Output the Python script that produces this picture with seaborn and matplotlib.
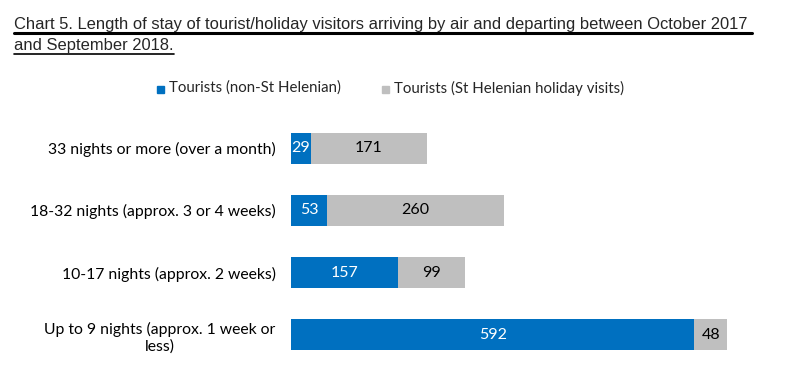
import matplotlib
matplotlib.use("Agg")
import matplotlib.pyplot as plt
import seaborn as sns
import numpy as np
import pandas as pd
from matplotlib.lines import Line2D
from matplotlib.patches import Rectangle

categories = [
    "33 nights or more (over a month)",
    "18-32 nights (approx. 3 or 4 weeks)",
    "10-17 nights (approx. 2 weeks)",
    "Up to 9 nights (approx. 1 week or\nless)",
]
non_st_helenian = [29, 53, 157, 592]
st_helenian = [171, 260, 99, 48]
series_names = ["Tourists (non-St Helenian)", "Tourists (St Helenian holiday visits)"]
title_lines = [
    "Chart 5. Length of stay of tourist/holiday visitors arriving by air and departing between October 2017 ",
    "and September 2018.",
]

BLUE = "#0070C0"
GREY = "#BFBFBF"

sns.set_theme(style="white")
plt.rcParams["font.family"] = ["Lato", "DejaVu Sans"]

df = pd.DataFrame({
    "cat": categories,
    "a": non_st_helenian,
    "b": st_helenian,
})
df["total"] = df["a"] + df["b"]

fig = plt.figure(figsize=(7.99, 3.77), dpi=100)
ax = fig.add_axes([291 / 799, 11 / 377, (768 - 291) / 799, (366 - 117) / 377])

sns.barplot(data=df, x="total", y="cat", color=GREY, width=0.5, ax=ax, saturation=1, linewidth=0)
sns.barplot(data=df, x="a", y="cat", color=BLUE, width=0.5, ax=ax, saturation=1, linewidth=0)
ax.set_xlim(0, 700)
ax.set_ylim(3.5, -0.5)
ax.set_xlabel("")
ax.set_ylabel("")
ax.set_xticks([])
for s in ax.spines.values():
    s.set_visible(False)
ax.tick_params(axis="y", length=0, pad=11, labelsize=11.3, colors="black")
for lbl in ax.get_yticklabels():
    lbl.set_horizontalalignment("right")
    lbl.set_multialignment("center")

for i, (a, b) in enumerate(zip(non_st_helenian, st_helenian)):
    ax.text(a / 2, i, str(a), ha="center", va="center", color="white", fontsize=11.5)
    ax.text(a + b / 2, i, str(b), ha="center", va="center", color="black", fontsize=11.5)

# Legend
fig.patches.append(Rectangle((157 / 799, 1 - 93 / 377), 7 / 799, 7 / 377, transform=fig.transFigure, color=BLUE))
fig.text(169 / 799, 1 - 88 / 377, series_names[0], ha="left", va="center", fontsize=10.8)
fig.patches.append(Rectangle((382 / 799, 1 - 93 / 377), 7 / 799, 7 / 377, transform=fig.transFigure, color=GREY))
fig.text(394 / 799, 1 - 88 / 377, series_names[1], ha="left", va="center", fontsize=10.8)

# Title with underline
tfam = ["Liberation Sans Narrow", "Liberation Sans", "DejaVu Sans"]
t1 = fig.text(14 / 799, 1 - 29 / 377, title_lines[0], ha="left", va="baseline", fontsize=11.9, family=tfam)
t2 = fig.text(14 / 799, 1 - 50 / 377, title_lines[1], ha="left", va="baseline", fontsize=11.9, family=tfam)
fig.canvas.draw()
r = fig.canvas.get_renderer()
for t, ypx, w in [(t1, 33, 2.2), (t2, 54, 1.2)]:
    bb = t.get_window_extent(r)
    x0 = bb.x0 / fig.bbox.width
    x1 = bb.x1 / fig.bbox.width
    fig.add_artist(Line2D([x0, x1], [1 - ypx / 377] * 2, transform=fig.transFigure, color="black", lw=w))

fig.savefig("out.png", dpi=100)
